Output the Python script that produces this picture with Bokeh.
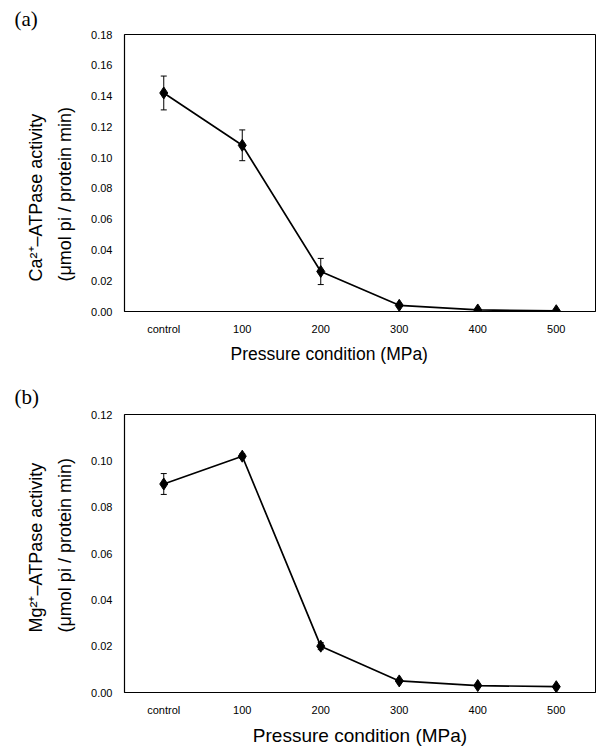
from bokeh.plotting import figure
from bokeh.models import (ColumnDataSource, FactorRange, Range1d, FixedTicker,
                          NumeralTickFormatter, Whisker, TeeHead, Title)
from bokeh.layouts import column
from bokeh.embed import file_html
from bokeh.resources import INLINE

categories = ["control", "100", "200", "300", "400", "500"]
ca_mean = [0.142, 0.108, 0.026, 0.004, 0.001, 0.0005]
ca_err = [0.011, 0.010, 0.0085, 0.0005, 0.0003, 0.0002]
mg_mean = [0.090, 0.102, 0.020, 0.005, 0.003, 0.0025]
mg_err = [0.0045, 0.001, 0.0015, 0.0004, 0.0003, 0.0002]

ca_ticks = [0.0, 0.02, 0.04, 0.06, 0.08, 0.10, 0.12, 0.14, 0.16, 0.18]
mg_ticks = [0.0, 0.02, 0.04, 0.06, 0.08, 0.10, 0.12]

SANS = "Liberation Sans"
SERIF = "Liberation Serif"


def title(text, size, font=SANS, **kw):
    return Title(text=text, text_font=font, text_font_size=size,
                 text_font_style="normal", text_color="black", **kw)


def panel(mean, err, ticks, ymax, height, top, bottom, ylab, yoff,
          xlab, xsize, xalign, xoff, tag, tag_standoff):
    lo = [m - e for m, e in zip(mean, err)]
    hi = [m + e for m, e in zip(mean, err)]
    src = ColumnDataSource(dict(x=categories, y=mean, lo=lo, hi=hi))
    p = figure(width=596, height=height, output_backend="svg",
               toolbar_location=None,
               x_range=FactorRange(*categories, range_padding=0),
               y_range=Range1d(0, ymax),
               min_border_left=124, min_border_right=1,
               min_border_top=top, min_border_bottom=bottom)
    p.background_fill_color = "white"
    p.border_fill_color = "white"
    p.outline_line_color = "black"
    p.outline_line_width = 1
    p.grid.visible = False

    p.yaxis.ticker = FixedTicker(ticks=ticks)
    p.yaxis.formatter = NumeralTickFormatter(format="0.00")
    for ax in (p.xaxis[0], p.yaxis[0]):
        ax.major_tick_out = 0
        ax.major_tick_in = 0
        ax.minor_tick_out = 0
        ax.minor_tick_in = 0
        ax.axis_line_color = "black"
        ax.axis_line_width = 1.2
        ax.major_label_text_font = SANS
        ax.major_label_text_font_size = "11px"
        ax.major_label_text_color = "black"
        ax.major_label_standoff = 12
    p.xaxis.major_label_standoff = 11

    wh = Whisker(source=src, base="x", lower="lo", upper="hi",
                 line_color="black", line_width=1,
                 lower_head=TeeHead(size=6, line_color="black", line_width=1),
                 upper_head=TeeHead(size=6, line_color="black", line_width=1))
    p.add_layout(wh)
    p.line("x", "y", source=src, line_color="black", line_width=1.7)
    p.scatter("x", "y", source=src, marker="diamond", size=12,
              fill_color="black", line_color="black")

    p.add_layout(title(ylab, "18px", align="left", offset=yoff, standoff=27,
                       text_line_height=1.44), "left")
    p.add_layout(title(xlab, xsize, align=xalign, offset=xoff, standoff=9), "below")
    p.add_layout(title(tag, "21px", font=SERIF, align="left", offset=-110,
                       standoff=tag_standoff), "above")
    return p


pa = panel(ca_mean, ca_err, ca_ticks, 0.18, 376, 34, 65,
           "Ca\u00b2\u207a\u2013ATPase activity\n(\u03bcmol pi / protein min)", 30,
           "Pressure  condition (MPa)", "17.5px", "left", 106, "(a)", 8)
pb = panel(mg_mean, mg_err, mg_ticks, 0.12, 375, 38, 59,
           "Mg\u00b2\u207a\u2013ATPase activity\n(\u03bcmol pi / protein min)", 60,
           "Pressure condition (MPa)", "19px", "center", 0, "(b)", 12)

layout = column(pa, pb, spacing=0)
open("out.html", "w").write(file_html(layout, INLINE))
